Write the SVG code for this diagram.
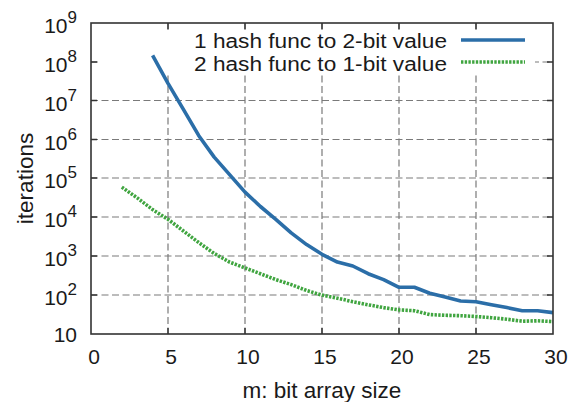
<svg xmlns="http://www.w3.org/2000/svg" width="569" height="402" viewBox="0 0 569 402">
  <style>
    .grid { stroke: #7a7a7a; stroke-width: 1.2; stroke-dasharray: 7 3.5; fill: none; }
    .frame { stroke: #333; stroke-width: 1.6; fill: none; }
    .tick { stroke: #333; stroke-width: 1.4; }
    .lbl { font-family: "Liberation Sans", Arial, sans-serif; font-size: 21px; fill: #1a1a1a; }
    .sup { font-size: 17px; }
    .title { font-family: "Liberation Sans", Arial, sans-serif; font-size: 22.5px; fill: #1a1a1a; }
    .key { font-family: "Liberation Sans", Arial, sans-serif; font-size: 20px; fill: #1a1a1a; }
    .s1 { stroke: #2b6ea8; stroke-width: 3.6; fill: none; stroke-linejoin: round; stroke-linecap: butt; }
    .s2 { stroke: #40a540; stroke-width: 3.6; fill: none; stroke-dasharray: 2.4 1.3; }
  </style>

  <rect width="569" height="402" fill="#fff"/>

  <!-- grid: decades on y, every 5 on x -->
  <g id="grid">
    <path class="grid" d="M91 62H553M91 100.5H553M91 139.5H553M91 178H553M91 217H553M91 256H553M91 295H553"/>
    <path class="grid" d="M168 23V334M245 23V334M322 23V334M399 23V334M476 23V334"/>
  </g>

  <!-- opaque key area -->
  <rect x="98" y="30" width="437" height="44" fill="#fff"/>

  <!-- data series -->
  <g id="series">
    <polyline id="series-1" class="s1" points="152.6,55.3 168,83.3 183.4,109.3 198.8,135.7 214.2,157.1 229.6,174.6 245,192.1 260.4,206.5 275.8,219.3 291.2,232.9 306.6,244.6 322,254.3 337.4,262.1 352.8,266 368.2,273.7 383.6,279.6 399,287.3 414.4,287.3 429.8,293.2 445.2,297.1 460.6,301 476,301.7 491.4,304.8 506.8,307.6 522.2,310.7 537.6,310.7 553,312.6"/>
    <polyline id="series-2" class="s2" points="121.8,187.1 137.2,197.9 152.6,209.6 168,219.3 183.4,231 198.8,242.6 214.2,253.5 229.6,262.1 245,267.9 260.4,273.7 275.8,279.6 291.2,284.6 306.6,290.5 322,295.1 337.4,298.2 352.8,301.7 368.2,304.8 383.6,307.6 399,309.9 414.4,310.7 429.8,314.6 445.2,315.3 460.6,315.7 476,316.5 491.4,317.7 506.8,319.2 522.2,321.2 537.6,320.8 553,321.6"/>
  </g>

  <!-- frame and ticks -->
  <g id="axes">
    <rect class="frame" x="91" y="23" width="462" height="311"/>
    <path class="tick" d="M91 62h6M91 100.5h6M91 139.5h6M91 178h6M91 217h6M91 256h6M91 295h6
                          M553 62h-6M553 100.5h-6M553 139.5h-6M553 178h-6M553 217h-6M553 256h-6M553 295h-6
                          M168 334v-6M245 334v-6M322 334v-6M399 334v-6M476 334v-6
                          M168 23v6M245 23v6M322 23v6M399 23v6M476 23v6"/>
  </g>

  <!-- y tick labels -->
  <g id="y-labels" class="lbl" text-anchor="end">
    <text x="77" y="33">10<tspan class="sup" dy="-10">9</tspan></text>
    <text x="77" y="72">10<tspan class="sup" dy="-10">8</tspan></text>
    <text x="77" y="110.5">10<tspan class="sup" dy="-10">7</tspan></text>
    <text x="77" y="149.5">10<tspan class="sup" dy="-10">6</tspan></text>
    <text x="77" y="188">10<tspan class="sup" dy="-10">5</tspan></text>
    <text x="77" y="227">10<tspan class="sup" dy="-10">4</tspan></text>
    <text x="77" y="266">10<tspan class="sup" dy="-10">3</tspan></text>
    <text x="77" y="305">10<tspan class="sup" dy="-10">2</tspan></text>
    <text x="77" y="341.5">10</text>
  </g>

  <!-- x tick labels -->
  <g id="x-labels" class="lbl" text-anchor="middle">
    <text x="94" y="364">0</text>
    <text x="171" y="364">5</text>
    <text x="248" y="364">10</text>
    <text x="325" y="364">15</text>
    <text x="402" y="364">20</text>
    <text x="479" y="364">25</text>
    <text x="556" y="364">30</text>
  </g>

  <!-- axis titles -->
  <text id="x-title" class="title" x="322" y="398" text-anchor="middle">m: bit array size</text>
  <text id="y-title" class="title" transform="translate(33 178.5) rotate(-90)" text-anchor="middle">iterations</text>

  <!-- key -->
  <g id="key">
    <text class="key" x="194" y="47.5" textLength="253" lengthAdjust="spacingAndGlyphs">1 hash func to 2-bit value</text>
    <text class="key" x="194" y="70.5" textLength="253" lengthAdjust="spacingAndGlyphs">2 hash func to 1-bit value</text>
    <line class="s1" x1="461" y1="40" x2="525" y2="40"/>
    <line class="s2" x1="461" y1="62" x2="525" y2="62"/>
  </g>
</svg>
